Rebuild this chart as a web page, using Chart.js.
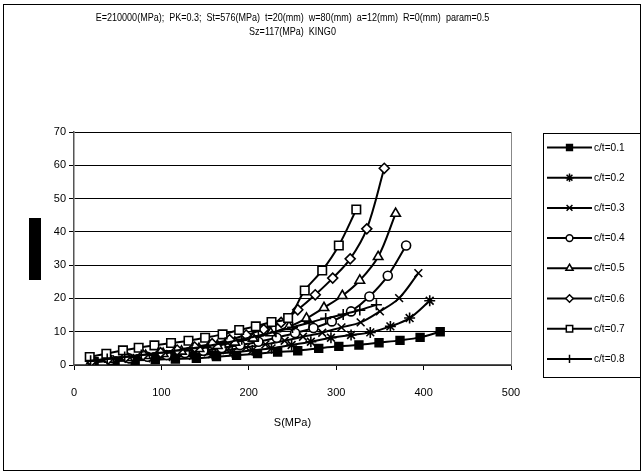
<!DOCTYPE html>
<html>
<head>
<meta charset="utf-8">
<script src="https://cdn.jsdelivr.net/npm/chart.js@4/dist/chart.umd.min.js"></script>
<style>
  html, body { margin: 0; padding: 0; background: #fff; }
  #wrap { width: 643px; height: 475px; }
</style>
</head>
<body>
<div id="wrap"><canvas id="chart" width="643" height="475"></canvas></div>
<script>
// chart texts
const titleLines = [
  'E=210000(MPa);  PK=0.3;  St=576(MPa)  t=20(mm)  w=80(mm)  a=12(mm)  R=0(mm)  param=0.5',
  'Sz=117(MPa)  KING0'
];
const xTitle = 'S(MPa)';
const seriesNames = ['c/t=0.1', 'c/t=0.2', 'c/t=0.3', 'c/t=0.4', 'c/t=0.5', 'c/t=0.6', 'c/t=0.7', 'c/t=0.8'];

// S values (x) and K values (y), one pair per series
const s01 = [23, 47, 70, 93, 116, 140, 163, 186, 210, 233, 256, 280, 303, 326, 349, 373, 396, 419];
const k01 = [1.0, 1.2, 1.4, 1.6, 1.8, 2.0, 2.5, 2.9, 3.4, 3.9, 4.3, 5.0, 5.6, 6.0, 6.7, 7.4, 8.3, 10.0];

const s02 = [23, 45, 68, 90, 113, 136, 158, 181, 204, 226, 249, 271, 294, 317, 339, 362, 384, 407];
const k02 = [1.0, 1.3, 1.7, 2.0, 2.4, 2.8, 3.3, 3.8, 4.4, 5.0, 6.0, 7.0, 8.2, 9.0, 9.8, 11.6, 14.1, 19.3];

const s03 = [22, 44, 66, 88, 110, 131, 153, 175, 197, 219, 241, 262, 284, 306, 328, 350, 372, 394];
const k03 = [1.0, 1.4, 1.8, 2.2, 2.7, 3.2, 3.8, 4.5, 5.3, 6.2, 7.3, 8.5, 9.7, 11.3, 12.8, 16.1, 20.1, 27.6];

const s04 = [21, 42, 63, 84, 106, 127, 148, 169, 190, 211, 232, 253, 274, 295, 317, 338, 359, 380];
const k04 = [1.1, 1.5, 2.0, 2.5, 3.0, 3.6, 4.3, 5.1, 6.0, 7.0, 8.2, 9.6, 11.1, 13.1, 16.1, 20.6, 26.8, 35.9];

const s05 = [20, 41, 61, 82, 102, 123, 143, 164, 184, 205, 225, 246, 266, 286, 307, 327, 348, 368];
const k05 = [1.2, 1.7, 2.2, 2.8, 3.4, 4.1, 4.9, 5.8, 6.8, 8.0, 9.6, 11.5, 14.0, 17.2, 20.8, 25.4, 32.5, 45.5];

const s06 = [20, 39, 59, 79, 99, 118, 138, 158, 178, 197, 217, 237, 256, 276, 296, 316, 335, 355];
const k06 = [1.2, 1.8, 2.4, 3.0, 3.7, 4.5, 5.4, 6.4, 7.6, 9.0, 10.7, 12.8, 16.6, 21.1, 26.1, 31.9, 40.9, 59.1];

const s07 = [18, 37, 56, 74, 92, 111, 131, 150, 170, 189, 208, 226, 245, 264, 284, 303, 323];
const k07 = [2.4, 3.4, 4.4, 5.2, 5.9, 6.6, 7.3, 8.2, 9.2, 10.5, 11.6, 12.9, 14.1, 22.4, 28.4, 35.9, 46.7];

const s08 = [19, 38, 58, 77, 96, 115, 135, 154, 173, 192, 211, 231, 250, 269, 288, 308, 327, 346];
const k08 = [1.3, 1.8, 2.4, 3.0, 3.6, 4.3, 5.0, 5.8, 6.7, 7.7, 8.8, 10.0, 11.3, 12.7, 14.0, 15.2, 16.5, 18.1];

const xValues = [s01, s02, s03, s04, s05, s06, s07, s08];
const yValues = [k01, k02, k03, k04, k05, k06, k07, k08];

// marker look per series
const markers = [
  { style: 'rect', r: 5.5, fill: '#000' },
  { style: 'star', r: 5.5, fill: '#fff' },
  { style: 'crossRot', r: 5.5, fill: '#fff' },
  { style: 'circle', r: 4.5, fill: '#fff' },
  { style: 'triangle', r: 5.5, fill: '#fff' },
  { style: 'rectRot', r: 5, fill: '#fff' },
  { style: 'rect', r: 6, fill: '#fff' },
  { style: 'cross', r: 5.5, fill: '#fff' }
];

const FONT = '"Liberation Sans", Arial, sans-serif';

const datasets = seriesNames.map((name, i) => ({
  label: name,
  data: xValues[i].map((x, j) => ({ x: x, y: yValues[i][j] })),
  showLine: true,
  borderColor: '#000',
  borderWidth: 2,
  tension: 0.35,
  pointStyle: markers[i].style,
  pointRadius: markers[i].r,
  pointBackgroundColor: markers[i].fill,
  pointBorderColor: '#000',
  pointBorderWidth: 1.6,
  order: 8 - i
}));

// narrow text, like the original's squeezed lettering
function narrowText(ctx, text, x, y, squeeze) {
  ctx.save();
  ctx.translate(x, y);
  ctx.scale(squeeze, 1);
  ctx.fillText(text, 0, 0);
  ctx.restore();
}

// page frame, headings, the black y label block and the boxed legend
const decorations = {
  id: 'decorations',
  beforeDraw(chart) {
    const ctx = chart.ctx;
    ctx.save();
    ctx.fillStyle = '#fff';
    ctx.fillRect(0, 0, chart.width, chart.height);
    ctx.restore();
  },
  afterDraw(chart) {
    const ctx = chart.ctx;
    const area = chart.chartArea;
    ctx.save();

    // outer frame
    ctx.strokeStyle = '#000';
    ctx.lineWidth = 1;
    ctx.strokeRect(3.5, 4.5, 637, 466);

    // plot area right edge
    ctx.strokeStyle = '#888';
    ctx.beginPath();
    ctx.moveTo(area.right + 0.5, area.top);
    ctx.lineTo(area.right + 0.5, area.bottom);
    ctx.stroke();

    // heading
    ctx.fillStyle = '#000';
    ctx.font = '11px ' + FONT;
    ctx.textAlign = 'center';
    ctx.textBaseline = 'middle';
    const cx = (area.left + area.right) / 2;
    narrowText(ctx, titleLines[0], cx, 18, 0.82);
    narrowText(ctx, titleLines[1], cx, 32, 0.82);

    // y axis label shown as a solid block
    ctx.fillRect(29, 218, 12, 62);

    // legend
    const lx = 543, ly = 133, lw = 97, lh = 244;
    ctx.strokeStyle = '#000';
    ctx.lineWidth = 1;
    ctx.strokeRect(lx + 0.5, ly + 0.5, lw, lh);
    ctx.textAlign = 'left';
    chart.data.datasets.forEach((ds, i) => {
      const y = 147.5 + i * 30.2;
      ctx.strokeStyle = '#000';
      ctx.lineWidth = 2;
      ctx.beginPath();
      ctx.moveTo(547, y);
      ctx.lineTo(592, y);
      ctx.stroke();
      ctx.lineWidth = 1.5;
      ctx.fillStyle = markers[i].fill;
      Chart.helpers.drawPoint(ctx, {
        pointStyle: markers[i].style,
        radius: markers[i].r * 0.75,
        rotation: 0,
        borderWidth: 1.5
      }, 569.5, y);
      ctx.fillStyle = '#000';
      ctx.font = '11px ' + FONT;
      narrowText(ctx, ds.label, 594, y, 0.92);
    });
    ctx.restore();
  }
};

new Chart(document.getElementById('chart').getContext('2d'), {
  type: 'scatter',
  data: { datasets: datasets },
  options: {
    responsive: false,
    animation: false,
    devicePixelRatio: 1,
    layout: { padding: { top: 132, right: 132, bottom: 40, left: 0 } },
    plugins: {
      legend: { display: false },
      title: { display: false },
      tooltip: { enabled: false }
    },
    scales: {
      x: {
        type: 'linear',
        min: 0,
        max: 500,
        afterFit(scale) { scale.height = 70; },
        border: { display: true, color: '#555', width: 1.5 },
        grid: { drawOnChartArea: false, drawTicks: true, tickLength: 5, color: '#000' },
        ticks: { stepSize: 100, padding: 16, color: '#000', font: { family: FONT, size: 11 } },
        title: {
          display: true,
          text: xTitle,
          color: '#000',
          font: { family: FONT, size: 11 },
          padding: { top: 0, bottom: 5 }
        }
      },
      y: {
        type: 'linear',
        min: 0,
        max: 70,
        afterFit(scale) { scale.width = 74; },
        border: { display: true, color: '#555', width: 1.5 },
        grid: { color: '#000', lineWidth: 1, tickLength: 5 },
        ticks: { stepSize: 10, padding: 3, color: '#000', font: { family: FONT, size: 11 } }
      }
    }
  },
  plugins: [decorations]
});
</script>
</body>
</html>
